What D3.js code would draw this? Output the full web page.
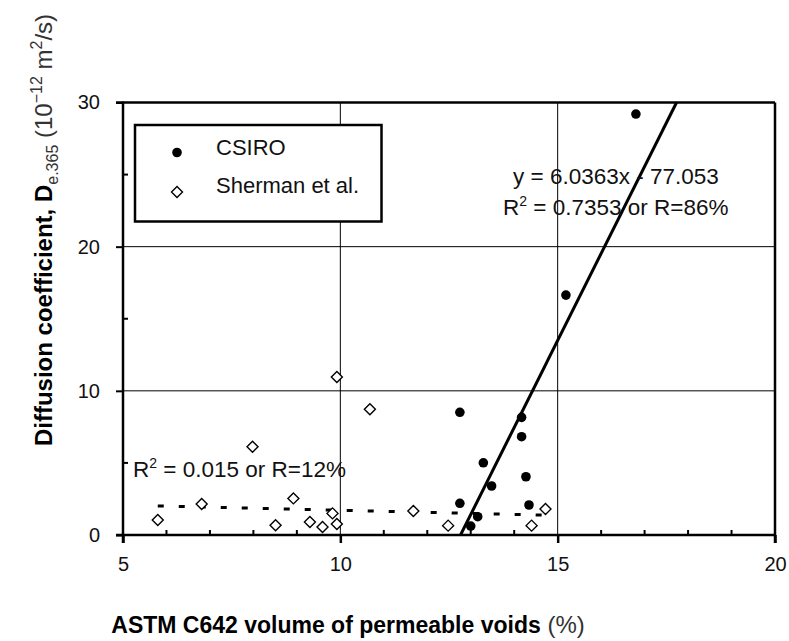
<!DOCTYPE html>
<html><head><meta charset="utf-8">
<script src="https://cdn.jsdelivr.net/npm/d3@7"></script>
<style>body{margin:0;background:#fff}svg{display:block;font-family:"Liberation Sans",Arial,sans-serif}</style>
</head><body><svg id="c" width="789" height="641"></svg>
<script>
const csiroX = [16.80, 15.19, 12.75, 14.17, 14.17, 13.29, 14.27, 13.48, 12.75, 14.34, 13.16, 13.00];
const csiroY = [29.2, 16.64, 8.51, 8.16, 6.82, 5.01, 4.04, 3.40, 2.20, 2.08, 1.27, 0.62];
const shermanX = [9.92, 10.68, 7.98, 8.92, 6.81, 5.80, 8.51, 9.30, 9.59, 9.82, 9.92, 11.68, 12.48, 14.40, 14.72];
const shermanY = [10.96, 8.72, 6.12, 2.54, 2.15, 1.04, 0.67, 0.90, 0.55, 1.50, 0.76, 1.66, 0.65, 0.65, 1.80];
const csiroFit = {slope: 6.0363, intercept: -77.053};
const shermanFitX = [5.8, 14.65];
const shermanFitY = [2.02, 1.38];
const xTicks = [5, 10, 15, 20];
const yTicks = [0, 10, 20, 30];
const xMinor = d3.range(5, 20.01, 1);
const yMinor = [5, 15, 25];

const svg = d3.select("#c");
const x = d3.scaleLinear().domain([5, 20]).range([123, 775]);
const y = d3.scaleLinear().domain([0, 30]).range([535, 102.5]);

// grid
svg.append("g").selectAll("line").data([10, 15]).join("line")
  .attr("x1", d => x(d)).attr("x2", d => x(d)).attr("y1", y(0)).attr("y2", y(30))
  .attr("stroke", "#000").attr("stroke-width", 1);
svg.append("g").selectAll("line").data([10, 20]).join("line")
  .attr("x1", x(5)).attr("x2", x(20)).attr("y1", d => y(d)).attr("y2", d => y(d))
  .attr("stroke", "#000").attr("stroke-width", 1);

// frame: top and right border
svg.append("line").attr("x1", x(5) - 7).attr("x2", x(20)).attr("y1", y(30)).attr("y2", y(30)).attr("stroke", "#000").attr("stroke-width", 2.5);
svg.append("line").attr("x1", x(20)).attr("x2", x(20)).attr("y1", y(30)).attr("y2", y(0) + 8).attr("stroke", "#000").attr("stroke-width", 2.5);

const fontFam = "Liberation Sans, Arial, sans-serif";
// axes
const xAxis = svg.append("g").attr("transform", `translate(0,${y(0)})`)
  .call(d3.axisBottom(x).tickValues(xTicks).tickSize(8).tickPadding(14).tickFormat(d3.format("d")));
xAxis.select(".domain").remove();
xAxis.selectAll(".tick line").attr("stroke-width", 2.5);
xAxis.selectAll("text").attr("font-size", 20).attr("font-family", fontFam).attr("fill", "#111");
svg.append("line").attr("x1", x(5) - 7).attr("x2", x(20)).attr("y1", y(0)).attr("y2", y(0)).attr("stroke", "#000").attr("stroke-width", 2.5);
svg.append("g").selectAll("line").data(xMinor.filter(d => !xTicks.includes(d))).join("line")
  .attr("x1", d => x(d)).attr("x2", d => x(d)).attr("y1", y(0)).attr("y2", y(0) - 5)
  .attr("stroke", "#000").attr("stroke-width", 2);

const yAxis = svg.append("g").attr("transform", `translate(${x(5)},0)`)
  .call(d3.axisLeft(y).tickValues(yTicks).tickSize(7).tickPadding(16).tickFormat(d3.format("d")));
yAxis.select(".domain").remove();
yAxis.selectAll(".tick line").attr("stroke-width", 2);
yAxis.selectAll("text").attr("font-size", 20).attr("font-family", fontFam).attr("fill", "#111");
svg.append("line").attr("x1", x(5)).attr("x2", x(5)).attr("y1", y(30) - 1).attr("y2", y(0) + 8).attr("stroke", "#000").attr("stroke-width", 2.5);
svg.append("g").selectAll("line").data(yMinor).join("line")
  .attr("x1", x(5)).attr("x2", x(5) + 5).attr("y1", d => y(d)).attr("y2", d => y(d))
  .attr("stroke", "#000").attr("stroke-width", 2);

// CSIRO regression line
const x0 = (0 - csiroFit.intercept) / csiroFit.slope, x1 = (30 - csiroFit.intercept) / csiroFit.slope;
svg.append("line").attr("x1", x(x0)).attr("y1", y(0)).attr("x2", x(x1)).attr("y2", y(30))
  .attr("stroke", "#000").attr("stroke-width", 3);

// Sherman fit (dashed)
svg.append("line").attr("x1", x(shermanFitX[0])).attr("y1", y(shermanFitY[0]))
  .attr("x2", x(shermanFitX[1])).attr("y2", y(shermanFitY[1]))
  .attr("stroke", "#000").attr("stroke-width", 3).attr("stroke-dasharray", "6,15");

// diamonds
const diamond = (cx, cy, r) => `M${cx},${cy - r}L${cx + r},${cy}L${cx},${cy + r}L${cx - r},${cy}Z`;
svg.append("g").selectAll("path").data(shermanX.map((d, i) => [d, shermanY[i]])).join("path")
  .attr("d", d => diamond(x(d[0]), y(d[1]), 5.5))
  .attr("fill", "#fff").attr("stroke", "#000").attr("stroke-width", 1.4);
// circles
svg.append("g").selectAll("circle").data(csiroX.map((d, i) => [d, csiroY[i]])).join("circle")
  .attr("cx", d => x(d[0])).attr("cy", d => y(d[1])).attr("r", 4.8).attr("fill", "#000");

// legend
svg.append("rect").attr("x", 135).attr("y", 125).attr("width", 246.5).attr("height", 96.5)
  .attr("fill", "#fff").attr("stroke", "#000").attr("stroke-width", 2.5);
svg.append("circle").attr("cx", 177).attr("cy", 152.5).attr("r", 4.8).attr("fill", "#000");
svg.append("path").attr("d", diamond(177, 192, 5.5)).attr("fill", "#fff").attr("stroke", "#000").attr("stroke-width", 1.4);
svg.append("text").attr("x", 216).attr("y", 155).attr("font-size", 22).attr("fill", "#111").text("CSIRO");
svg.append("text").attr("x", 216).attr("y", 193).attr("font-size", 22).attr("fill", "#111").text("Sherman et al.");

// equation text
svg.append("text").attr("x", 513).attr("y", 184).attr("font-size", 22.5).attr("fill", "#111")
  .text("y = 6.0363x - 77.053");
const t2 = svg.append("text").attr("x", 503).attr("y", 215).attr("font-size", 22.5).attr("fill", "#111");
t2.append("tspan").text("R");
t2.append("tspan").attr("font-size", 14).attr("dy", -9).text("2");
t2.append("tspan").attr("dy", 9).text(" = 0.7353 or R=86%");

const t3 = svg.append("text").attr("x", 133).attr("y", 477).attr("font-size", 22.5).attr("fill", "#111");
t3.append("tspan").text("R");
t3.append("tspan").attr("font-size", 14).attr("dy", -9).text("2");
t3.append("tspan").attr("dy", 9).text(" = 0.015 or R=12%");

// x title
const xt = svg.append("text").attr("x", 348).attr("y", 633).attr("text-anchor", "middle").attr("font-size", 23).attr("fill", "#000");
xt.append("tspan").attr("font-weight", "bold").text("ASTM C642 volume of permeable voids");
xt.append("tspan").attr("fill", "#333").attr("font-size", 24).text(" (%)");

// y title
const yt = svg.append("text").attr("transform", "translate(52,230) rotate(-90)").attr("text-anchor", "middle").attr("font-size", 24).attr("fill", "#000");
yt.append("tspan").attr("font-weight", "bold").text("Diffusion coefficient, D");
yt.append("tspan").attr("font-size", 16).attr("dy", 6).attr("fill", "#333").text("e.365");
yt.append("tspan").attr("font-size", 24).attr("dy", -6).attr("fill", "#333").text(" (10");
yt.append("tspan").attr("font-size", 16).attr("dy", -10).attr("fill", "#333").text("−12");
yt.append("tspan").attr("font-size", 24).attr("dy", 10).attr("fill", "#333").text(" m");
yt.append("tspan").attr("font-size", 16).attr("dy", -10).attr("fill", "#333").text("2");
yt.append("tspan").attr("font-size", 24).attr("dy", 10).attr("fill", "#333").text("/s)");
</script></body></html>
